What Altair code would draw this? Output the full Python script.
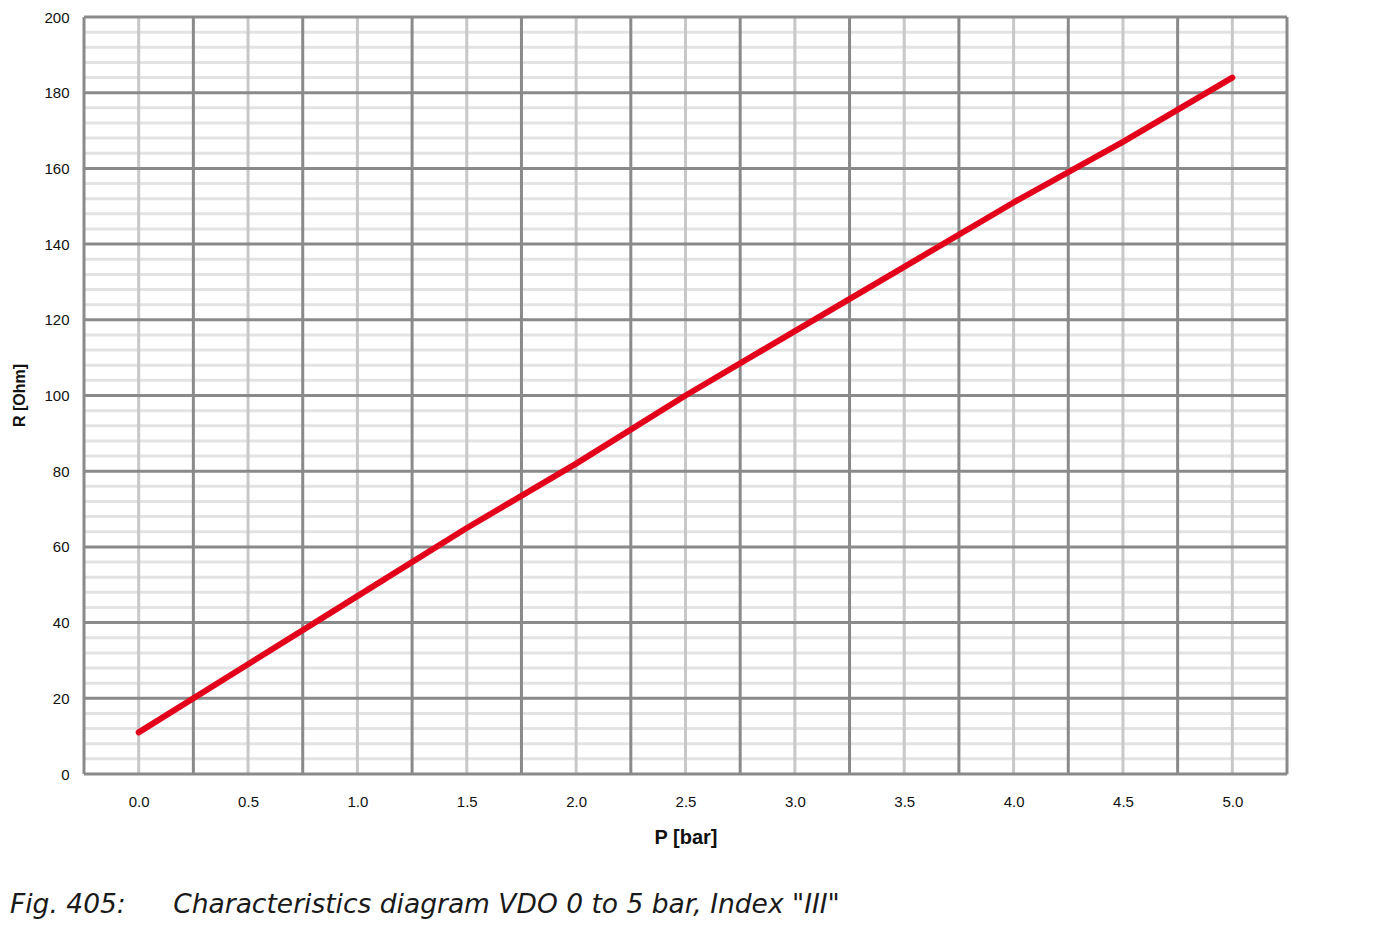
import altair as alt
import pandas as pd

# Data
pressure_bar = [0.0, 0.5, 1.0, 1.5, 2.0, 2.5, 3.0, 3.5, 4.0, 4.5, 5.0]
resistance_ohm = [11, 29, 47, 65, 82, 100, 117, 134, 151, 167, 184]

x_tick_values = [0.0, 0.5, 1.0, 1.5, 2.0, 2.5, 3.0, 3.5, 4.0, 4.5, 5.0]
x_major_grid = [-0.25, 0.25, 0.75, 1.25, 1.75, 2.25, 2.75, 3.25, 3.75, 4.25, 4.75, 5.25]
y_tick_values = [0, 20, 40, 60, 80, 100, 120, 140, 160, 180, 200]
y_minor_grid = [4, 8, 12, 16, 24, 28, 32, 36, 44, 48, 52, 56, 64, 68, 72, 76,
                84, 88, 92, 96, 104, 108, 112, 116, 124, 128, 132, 136,
                144, 148, 152, 156, 164, 168, 172, 176, 184, 188, 192, 196]

curve = pd.DataFrame({"P": pressure_bar, "R": resistance_ohm})
df_xlight = pd.DataFrame({"v": x_tick_values})
df_xdark = pd.DataFrame({"v": x_major_grid})
df_ydark = pd.DataFrame({"v": y_tick_values})
df_yminor = pd.DataFrame({"v": y_minor_grid})

xscale = alt.Scale(domain=[-0.25, 5.25], nice=False, zero=False)
yscale = alt.Scale(domain=[0, 200], nice=False)

FONT = "Liberation Sans"
DARK = "#8a8a8a"

x_axis = alt.Axis(
    title="P [bar]",
    values=x_tick_values,
    format=".1f",
    grid=False,
    domain=False,
    ticks=False,
    labelFont=FONT,
    labelFontSize=15,
    labelColor="#111111",
    labelPadding=20,
    labelFlush=False,
    titleFont=FONT,
    titleFontSize=20,
    titleFontWeight="bold",
    titleColor="#111111",
    titleBaseline="alphabetic",
    titleY=69,
)
y_axis = alt.Axis(
    title="R [Ohm]",
    values=y_tick_values,
    grid=False,
    domain=False,
    ticks=False,
    labelFont=FONT,
    labelFontSize=15,
    labelColor="#111111",
    labelPadding=15,
    labelFlush=False,
    titleFont=FONT,
    titleFontSize=16,
    titleFontWeight="bold",
    titleColor="#111111",
    titleX=-57,
    titleY=378,
    titleBaseline="bottom",
)

yminor = alt.Chart(df_yminor).mark_rule(color="#e3e3e3", strokeWidth=3).encode(
    y=alt.Y("v:Q", scale=yscale, axis=y_axis, title="R [Ohm]")
)
xlight = alt.Chart(df_xlight).mark_rule(color="#c8c8c8", strokeWidth=3).encode(
    x=alt.X("v:Q", scale=xscale, axis=x_axis, title="P [bar]")
)
ydark = alt.Chart(df_ydark).mark_rule(color=DARK, strokeWidth=3).encode(
    y=alt.Y("v:Q", scale=yscale, axis=y_axis, title="R [Ohm]")
)
xdark = alt.Chart(df_xdark).mark_rule(color=DARK, strokeWidth=3).encode(
    x=alt.X("v:Q", scale=xscale, axis=x_axis, title="P [bar]")
)

line = alt.Chart(curve).mark_line(
    color="#e2001a", strokeWidth=6, strokeCap="round", strokeJoin="round"
).encode(
    x=alt.X("P:Q", scale=xscale, axis=x_axis, title="P [bar]"),
    y=alt.Y("R:Q", scale=yscale, axis=y_axis, title="R [Ohm]"),
)

caption = "Fig. 405:" + "\u00a0" * 5 + "\u2009" + 'Characteristics diagram VDO 0 to 5 bar, Index "III"'

chart = alt.layer(yminor, xlight, ydark, xdark, line).properties(
    width=1203,
    height=757,
    padding={"left": 76, "top": 9, "right": 70, "bottom": 160},
    autosize=alt.AutoSizeParams(type="none"),
    title=alt.TitleParams(
        text=caption,
        orient="bottom",
        anchor="start",
        frame="group",
        font="DejaVu Sans",
        fontStyle="italic",
        fontWeight="normal",
        fontSize=26.5,
        color="#1a1a1a",
        dx=-74,
        offset=45,
    ),
).configure_view(stroke=None).configure(background="white")

chart.save("out.html", embed_options={"renderer": "svg", "actions": False})
